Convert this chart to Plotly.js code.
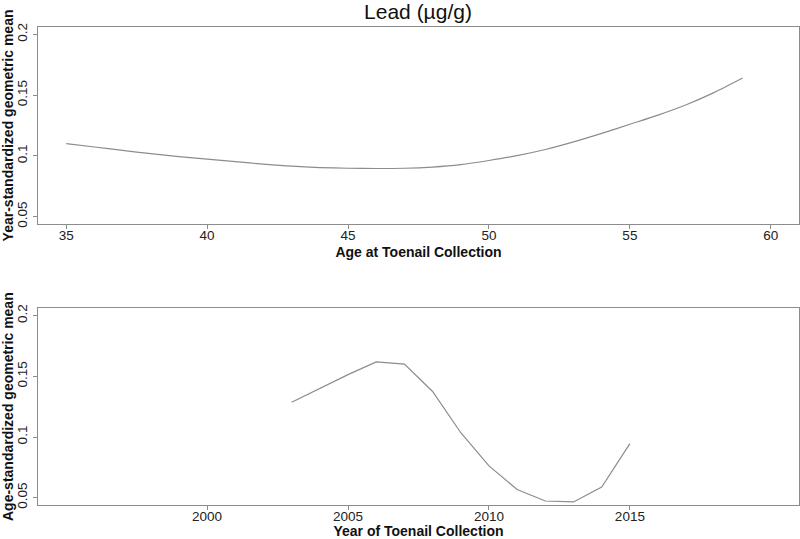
<!DOCTYPE html>
<html>
<head>
<meta charset="utf-8">
<script src="https://cdn.plot.ly/plotly-3.0.1.min.js"></script>
<style>html,body{margin:0;padding:0;background:#fff;}#chart{width:800px;height:539px;}</style>
</head>
<body>
<div id="chart"></div>
<script>
const ages = [35,36,37,38,39,40,41,42,43,44,45,46,47,48,49,50,51,52,53,54,55,56,57,58,59];
const ageMeans = [0.110,0.1073,0.1045,0.1018,0.0994,0.0973,0.0952,0.0932,0.0915,0.0904,0.0898,0.0896,0.0898,0.0908,0.0928,0.0962,0.1002,0.1052,0.1115,0.1185,0.1260,0.1335,0.1420,0.1522,0.1640];
const years = [2003,2004,2005,2006,2007,2008,2009,2010,2011,2012,2013,2014,2015];
const yearMeans = [0.1286,0.1400,0.1514,0.1618,0.1600,0.1375,0.1035,0.0762,0.0567,0.0473,0.0465,0.0587,0.0946];
const ageTicks = [35,40,45,50,55,60];
const yearTicks = [2000,2005,2010,2015];
const yTicks = [0.05,0.1,0.15,0.2];
const yTickText = ['0.05','0.1','0.15','0.2'];

const gray = '#8c8c8c';
const fam = 'Liberation Sans, Arial, sans-serif';

const traces = [
  {x: ages, y: ageMeans, type:'scatter', mode:'lines', line:{color:gray, width:1.2, shape:'spline', smoothing:0.8}, xaxis:'x', yaxis:'y', hoverinfo:'skip'},
  {x: years, y: yearMeans, type:'scatter', mode:'lines', line:{color:gray, width:1.2}, xaxis:'x2', yaxis:'y2', hoverinfo:'skip'}
];

function ax(extra){
  return Object.assign({
    showgrid:false, zeroline:false, showline:true, mirror:true,
    linecolor:gray, linewidth:1.2, ticks:'outside', ticklen:4, tickcolor:gray, tickwidth:1,
    tickfont:{family:fam, size:13.5, color:'#222'}
  }, extra);
}
const tf = {family:fam, size:14, color:'#111'};

const layout = {
  width:800, height:539,
  margin:{l:38, r:1, t:27, b:34},
  paper_bgcolor:'#fff', plot_bgcolor:'#fff',
  showlegend:false,
  font:{family:fam, size:13, color:'#222'},
  title:{text:'Lead (\u00b5g/g)', font:{family:fam, size:21, color:'#111'}, x:0.5225, xanchor:'center', y:0.978, yanchor:'middle'},
  xaxis: ax({domain:[0,1], anchor:'y', range:[34,61], tickvals:ageTicks, ticklabelstandoff:-5,
    title:{text:'<b>Age at Toenail Collection</b>', font:tf, standoff:4}}),
  yaxis: ax({domain:[0.588,1], anchor:'x', range:[0.044,0.206], tickvals:yTicks, ticktext:yTickText, tickangle:-90,
    title:{text:'<b>Year-standardized geometric mean</b>', font:tf, standoff:2}}),
  xaxis2: ax({domain:[0,1], anchor:'y2', range:[1994,2021], tickvals:yearTicks, ticklabelstandoff:-5,
    title:{text:'<b>Year of Toenail Collection</b>', font:tf, standoff:6}}),
  yaxis2: ax({domain:[0,0.4115], anchor:'x2', range:[0.044,0.206], tickvals:yTicks, ticktext:yTickText, tickangle:-90,
    title:{text:'<b>Age-standardized geometric mean</b>', font:tf, standoff:2}})
};

Plotly.newPlot('chart', traces, layout, {staticPlot:true, displayModeBar:false});
</script>
</body>
</html>
